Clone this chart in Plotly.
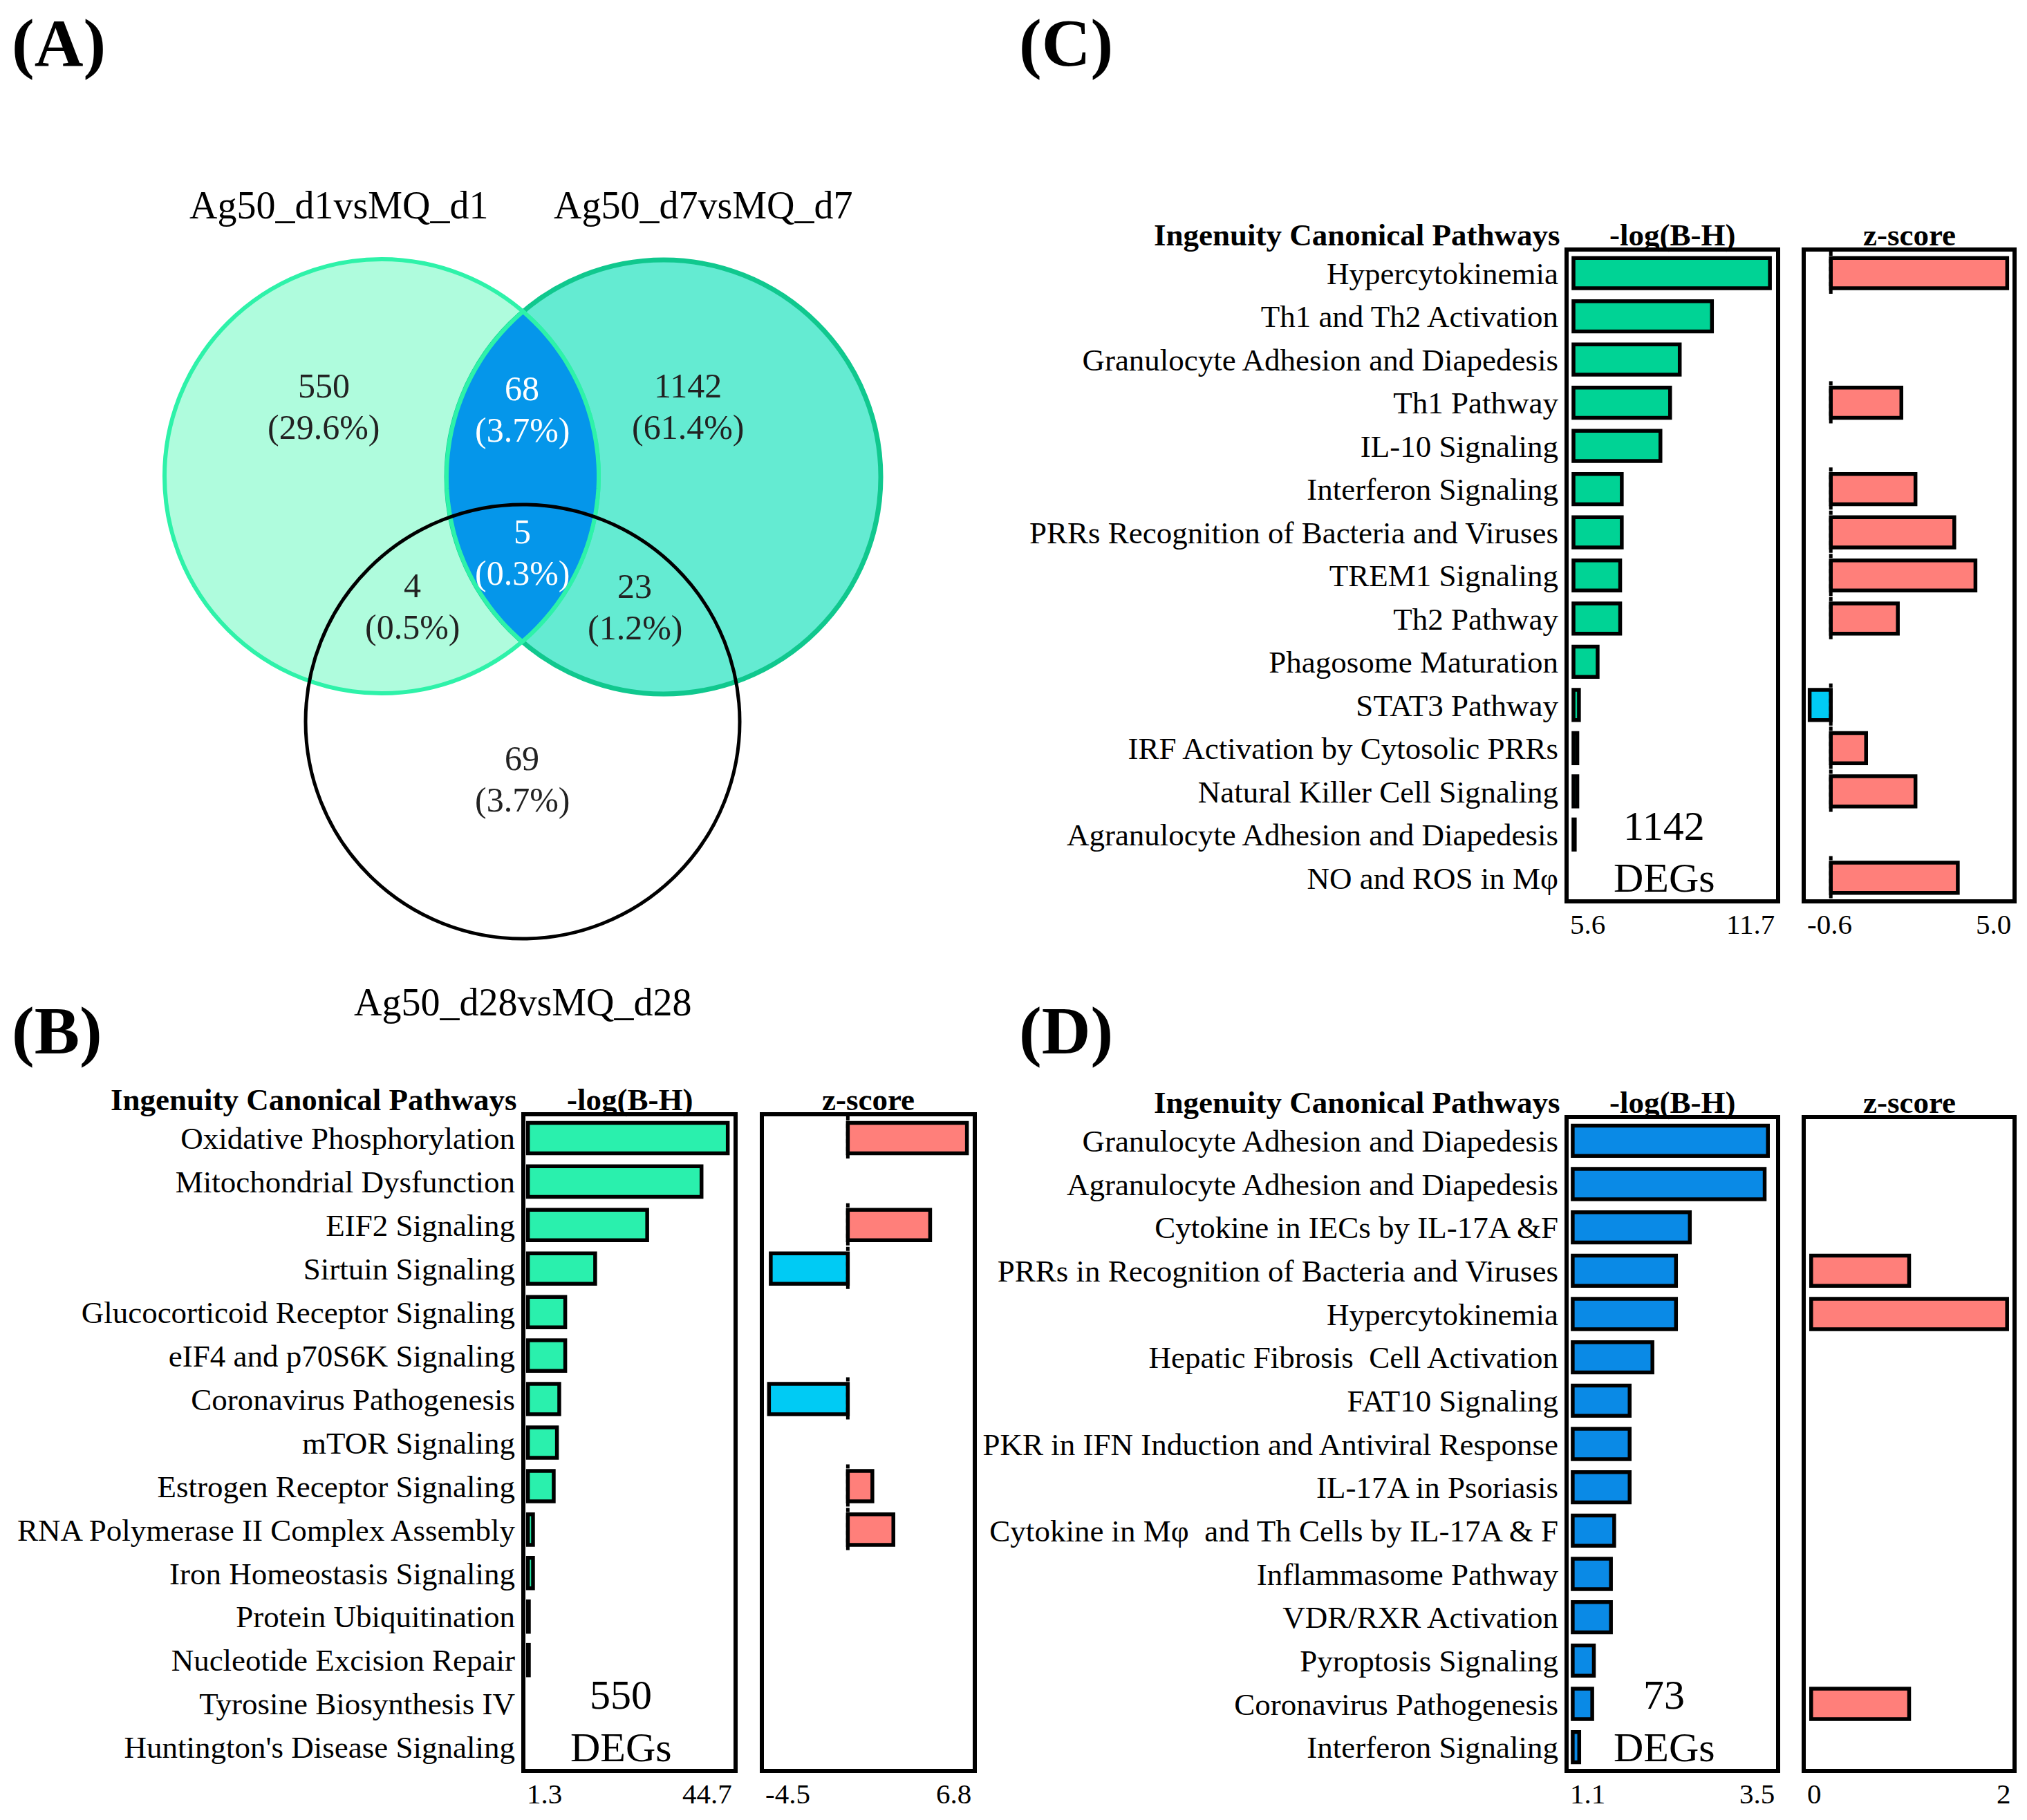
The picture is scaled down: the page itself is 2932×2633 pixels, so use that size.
import numpy as np
import plotly.graph_objects as go

W, H = 2932, 2633
OFF = 8  # page body margin offset
FONT = "Liberation Serif"

# ---------------- Data ----------------
venn_sets = ["Ag50_d1vsMQ_d1", "Ag50_d7vsMQ_d7", "Ag50_d28vsMQ_d28"]
venn_counts = [550, 68, 1142, 5, 4, 23, 69]
venn_pcts = ["29.6%", "3.7%", "61.4%", "0.3%", "0.5%", "1.2%", "3.7%"]

b_paths = ["Oxidative Phosphorylation", "Mitochondrial Dysfunction", "EIF2 Signaling",
           "Sirtuin Signaling", "Glucocorticoid Receptor Signaling", "eIF4 and p70S6K Signaling",
           "Coronavirus Pathogenesis", "mTOR Signaling", "Estrogen Receptor Signaling",
           "RNA Polymerase II Complex Assembly", "Iron Homeostasis Signaling",
           "Protein Ubiquitination", "Nucleotide Excision Repair", "Tyrosine Biosynthesis IV",
           "Huntington's Disease Signaling"]
b_logp = [44.7, 39.0, 27.2, 15.9, 9.4, 9.4, 8.1, 7.6, 6.9, 2.4, 2.4, 1.5, 1.5, None, None]
b_z = [6.8, None, 4.7, -4.4, None, None, -4.5, None, 1.4, 2.6, None, None, None, None, None]
b_log_ticks = ["1.3", "44.7"]
b_z_ticks = ["-4.5", "6.8"]
b_degs = "550"

c_paths = ["Hypercytokinemia", "Th1 and Th2 Activation", "Granulocyte Adhesion and Diapedesis",
           "Th1 Pathway", "IL-10 Signaling", "Interferon Signaling",
           "PRRs Recognition of Bacteria and Viruses", "TREM1 Signaling", "Th2 Pathway",
           "Phagosome Maturation", "STAT3 Pathway", "IRF Activation by Cytosolic PRRs",
           "Natural Killer Cell Signaling", "Agranulocyte Adhesion and Diapedesis",
           "NO and ROS in M\u03c6"]
c_logp = [11.7, 9.9, 8.9, 8.6, 8.3, 7.1, 7.1, 7.05, 7.05, 6.35, 5.77, 5.72, 5.72, 5.64, None]
c_z = [5.0, None, None, 2.0, None, 2.4, 3.5, 4.1, 1.9, None, -0.6, 1.0, 2.4, None, 3.6]
c_log_ticks = ["5.6", "11.7"]
c_z_ticks = ["-0.6", "5.0"]
c_degs = "1142"

d_paths = ["Granulocyte Adhesion and Diapedesis", "Agranulocyte Adhesion and Diapedesis",
           "Cytokine in IECs by IL-17A &F", "PRRs in Recognition of Bacteria and Viruses",
           "Hypercytokinemia", "Hepatic Fibrosis  Cell Activation", "FAT10 Signaling",
           "PKR in IFN Induction and Antiviral Response", "IL-17A in Psoriasis",
           "Cytokine in M\u03c6  and Th Cells by IL-17A & F", "Inflammasome Pathway",
           "VDR/RXR Activation", "Pyroptosis Signaling", "Coronavirus Pathogenesis",
           "Interferon Signaling"]
d_logp = [3.5, 3.46, 2.54, 2.37, 2.37, 2.08, 1.80, 1.80, 1.80, 1.61, 1.57, 1.57, 1.36, 1.34, 1.18]
d_z = [None, None, None, 1.0, 2.0, None, None, None, None, None, None, None, None, 1.0, None]
d_log_ticks = ["1.1", "3.5"]
d_z_ticks = ["0", "2"]
d_degs = "73"

# ---------------- Styles / layout constants ----------------
GREEN_B = "#2af0ad"
GREEN_C = "#00d395"
BLUE_D = "#0a8ae6"
RED = "#ff7f7a"
CYAN = "#00cbf4"

panels = [
    dict(paths=b_paths, logp=b_logp, z=b_z, lt=b_log_ticks, zt=b_z_ticks, degs=b_degs, color=GREEN_B,
         lx=(760, 1061), zx=(1105, 1407), yb=(1615, 2559), lr=(0.75, 45.95), zr=(-4.79, 7.13), zline=True),
    dict(paths=c_paths, logp=c_logp, z=c_z, lt=c_log_ticks, zt=c_z_ticks, degs=c_degs, color=GREEN_C,
         lx=(2269, 2569), zx=(2612, 2911), yb=(364, 1301), lr=(5.45, 11.89), zr=(-0.71, 5.15), zline=True),
    dict(paths=d_paths, logp=d_logp, z=d_z, lt=d_log_ticks, zt=d_z_ticks, degs=d_degs, color=BLUE_D,
         lx=(2269, 2569), zx=(2612, 2911), yb=(1619, 2559), lr=(1.05, 3.6), zr=(-0.055, 2.055), zline=False),
]

fig = go.Figure()
layout = dict(width=W, height=H, margin=dict(l=0, r=0, t=0, b=0),
              paper_bgcolor="white", plot_bgcolor="rgba(0,0,0,0)", showlegend=False,
              font=dict(family=FONT, color="black"))
annotations = []
shapes = []


def px_x(x):
    return (x - OFF) / W


def px_y(y):
    return 1 - (y - OFF) / H


axis_idx = 1
for p in panels:
    n = len(p["paths"])
    rows = list(range(n))
    y0, y1 = p["yb"]
    ydom = [px_y(y1), px_y(y0)]
    for kind in ("log", "z"):
        xs = "x" if axis_idx == 1 else f"x{axis_idx}"
        ys = "y" if axis_idx == 1 else f"y{axis_idx}"
        xkey = "xaxis" if axis_idx == 1 else f"xaxis{axis_idx}"
        ykey = "yaxis" if axis_idx == 1 else f"yaxis{axis_idx}"
        if kind == "log":
            bx = p["lx"]
            vals = p["logp"]
            base = float(p["lt"][0])
            colors = [p["color"]] * n
            xvals = [v - base if v is not None else None for v in vals]
            bases = [base] * n
            rng = p["lr"]
            ticks = p["lt"]
        else:
            bx = p["zx"]
            vals = p["z"]
            colors = [RED if (v is not None and v >= 0) else CYAN for v in vals]
            xvals = vals
            bases = [0] * n
            rng = p["zr"]
            ticks = p["zt"]
        fig.add_trace(go.Bar(
            orientation="h", y=rows, x=xvals, base=bases, width=0.7,
            marker=dict(color=colors, line=dict(color="black", width=5.5)),
            xaxis=xs, yaxis=ys, hoverinfo="skip"))
        if kind == "z" and p["zline"]:
            lx, ly = [], []
            for i, v in enumerate(vals):
                if v is not None:
                    lx += [0, 0, None]
                    ly += [i - 0.5, i + 0.5, None]
            fig.add_trace(go.Scatter(x=lx, y=ly, mode="lines",
                                     line=dict(color="black", width=5, dash="6px,5px"),
                                     xaxis=xs, yaxis=ys, hoverinfo="skip"))
        layout[xkey] = dict(domain=[px_x(bx[0]), px_x(bx[1])], range=list(rng), anchor=ys,
                            showgrid=False, zeroline=False, showticklabels=False, ticks="",
                            showline=True, mirror=True, linecolor="black", linewidth=6,
                            fixedrange=True)
        ydef = dict(domain=ydom, range=[n - 0.5, -0.5], anchor=xs, showgrid=False,
                    zeroline=False, showline=True, mirror=True, linecolor="black",
                    linewidth=6, fixedrange=True)
        if kind == "log":
            ydef.update(tickmode="array", tickvals=rows, ticktext=p["paths"], ticks="",
                        ticklabelstandoff=0,
                        tickfont=dict(family=FONT, size=45, color="black"))
        else:
            ydef.update(showticklabels=False, ticks="")
        layout[ykey] = ydef
        # tick labels at box corners
        annotations.append(dict(text=ticks[0], xref=f"{xs} domain", yref="paper", x=0,
                                y=px_y(y1 + 36), xanchor="left", yanchor="middle",
                                showarrow=False, font=dict(family=FONT, size=41)))
        annotations.append(dict(text=ticks[1], xref=f"{xs} domain", yref="paper", x=1,
                                y=px_y(y1 + 36), xanchor="right", yanchor="middle",
                                showarrow=False, font=dict(family=FONT, size=41)))
        # header
        annotations.append(dict(text="<b>-log(B-H)</b>" if kind == "log" else "<b>z-score</b>",
                                xref="paper", yref="paper", x=px_x((bx[0] + bx[1]) / 2),
                                y=px_y(y0 - 24), xanchor="center", yanchor="middle",
                                showarrow=False, font=dict(family=FONT, size=45)))
        if kind == "log":
            annotations.append(dict(text="<b>Ingenuity Canonical Pathways</b>", xref="paper",
                                    yref="paper", x=px_x(bx[0] - 10), y=px_y(y0 - 24),
                                    xanchor="right", yanchor="middle", showarrow=False,
                                    font=dict(family=FONT, size=45)))
            annotations.append(dict(text=p["degs"], xref=f"{xs} domain", yref=ys, x=0.46,
                                    y=n - 2.2, xanchor="center", yanchor="middle",
                                    showarrow=False, font=dict(family=FONT, size=60)))
            annotations.append(dict(text="DEGs", xref=f"{xs} domain", yref=ys, x=0.46,
                                    y=n - 1, xanchor="center", yanchor="middle",
                                    showarrow=False, font=dict(family=FONT, size=60)))
        axis_idx += 1

# ---------------- Venn overlay axis ----------------
vx, vy = f"x{axis_idx}", f"y{axis_idx}"
layout[f"xaxis{axis_idx}"] = dict(domain=[0, 1], range=[OFF, W + OFF], visible=False,
                                  fixedrange=True, anchor=vy)
layout[f"yaxis{axis_idx}"] = dict(domain=[0, 1], range=[H + OFF, OFF], visible=False,
                                  fixedrange=True, anchor=vx)
fig.add_trace(go.Scatter(x=[OFF], y=[OFF], mode="markers", marker=dict(opacity=0),
                         xaxis=vx, yaxis=vy, hoverinfo="skip"))

C1, C2, C3, R = (552, 689), (960, 690), (756, 1044), 314
LEFT_FILL, LEFT_LINE = "#affcdd", "#2ef2a9"
RIGHT_FILL, RIGHT_LINE = "#64ebd2", "#10c88e"
LENS_FILL = "#0596ea"


def circ(c, fill, line, lw):
    return dict(type="circle", xref=vx, yref=vy, x0=c[0] - R, x1=c[0] + R, y0=c[1] - R,
                y1=c[1] + R, fillcolor=fill, line=dict(color=line, width=lw), layer="above")


shapes.append(circ(C1, LEFT_FILL, "rgba(0,0,0,0)", 0))
shapes.append(circ(C2, RIGHT_FILL, "rgba(0,0,0,0)", 0))
shapes.append(circ(C2, "rgba(0,0,0,0)", RIGHT_LINE, 7))
shapes.append(circ(C1, "rgba(0,0,0,0)", LEFT_LINE, 6))

# lens (intersection of the two upper circles)
dx, dy = C2[0] - C1[0], C2[1] - C1[1]
d = np.hypot(dx, dy)
a = d / 2
h = np.sqrt(R ** 2 - a ** 2)
mx, my = C1[0] + dx / 2, C1[1] + dy / 2
p_top = (mx + h * dy / d, my - h * dx / d)
p_bot = (mx - h * dy / d, my + h * dx / d)
if p_top[1] > p_bot[1]:
    p_top, p_bot = p_bot, p_top


def arc(c, p_from, p_to, through_angle):
    a0 = np.arctan2(p_from[1] - c[1], p_from[0] - c[0])
    a1 = np.arctan2(p_to[1] - c[1], p_to[0] - c[0])
    ts = np.linspace(0, 1, 80)
    for sgn in (1, -1):
        span = (a1 - a0) % (2 * np.pi) if sgn == 1 else -((a0 - a1) % (2 * np.pi))
        mid = a0 + span / 2
        if np.cos(mid - through_angle) > 0:
            angs = a0 + span * ts
            return [(c[0] + R * np.cos(t), c[1] + R * np.sin(t)) for t in angs]


pts = arc(C1, p_top, p_bot, 0.0) + arc(C2, p_bot, p_top, np.pi)
path = "M " + " L ".join(f"{x:.1f},{y:.1f}" for x, y in pts) + " Z"
shapes.append(dict(type="path", xref=vx, yref=vy, path=path, fillcolor=LENS_FILL,
                   line=dict(color=LEFT_LINE, width=6), layer="above"))
shapes.append(circ(C3, "rgba(0,0,0,0)", "black", 5))

venn_pos = [(468, 558), (755, 562), (995, 558), (755, 769), (596, 847), (918, 848), (755, 1097)]
venn_white = [False, True, False, True, False, False, False]
for cnt, pct, (x, y), wht in zip(venn_counts, venn_pcts, venn_pos, venn_white):
    col = "white" if wht else "#222222"
    annotations.append(dict(text=str(cnt), xref=vx, yref=vy, x=x, y=y, showarrow=False,
                            xanchor="center", yanchor="middle",
                            font=dict(family=FONT, size=50, color=col)))
    annotations.append(dict(text=f"({pct})", xref=vx, yref=vy, x=x, y=y + 60, showarrow=False,
                            xanchor="center", yanchor="middle",
                            font=dict(family=FONT, size=50, color=col)))

set_pos = [(490, 297), (1017, 297), (756, 1450)]
for name, (x, y) in zip(venn_sets, set_pos):
    annotations.append(dict(text=name, xref=vx, yref=vy, x=x, y=y, showarrow=False,
                            xanchor="center", yanchor="middle",
                            font=dict(family=FONT, size=56, color="black")))

panel_labels = [("(A)", 15, 62), ("(B)", 15, 1491), ("(C)", 1472, 62), ("(D)", 1472, 1491)]
for lab, x, y in panel_labels:
    annotations.append(dict(text=f"<b>{lab}</b>", xref=vx, yref=vy, x=x, y=y, showarrow=False,
                            xanchor="left", yanchor="middle",
                            font=dict(family=FONT, size=98, color="black")))

layout["annotations"] = annotations
layout["shapes"] = shapes
fig.update_layout(**layout)
fig.write_html("out.html")
